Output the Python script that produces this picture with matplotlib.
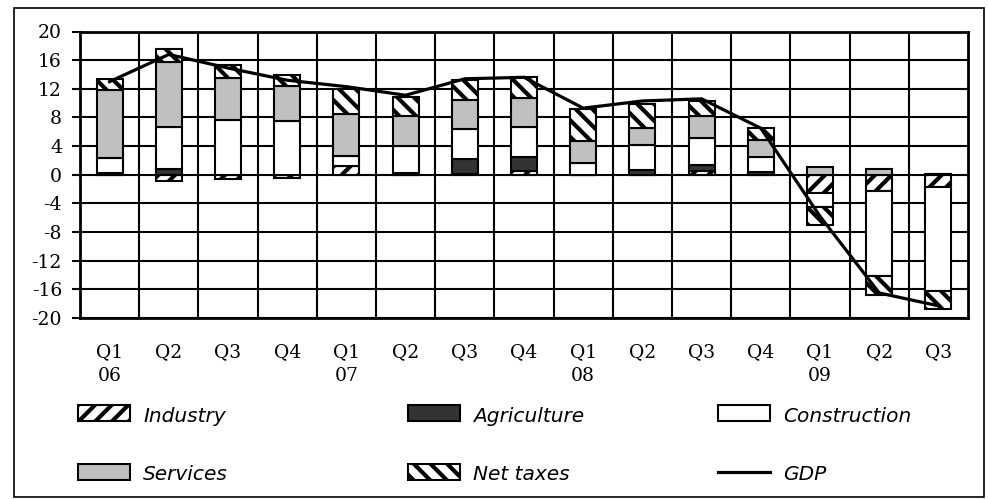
import matplotlib
matplotlib.use("Agg")
import matplotlib.pyplot as plt
from matplotlib.patches import Rectangle
from matplotlib.lines import Line2D
import numpy as np

# Contributions to GDP growth, percentage points
quarters = ["Q1\n06", "Q2", "Q3", "Q4", "Q1\n07", "Q2", "Q3", "Q4",
            "Q1\n08", "Q2", "Q3", "Q4", "Q1\n09", "Q2", "Q3"]
industry = [0.0, -0.9, -0.6, -0.5, 1.2, 0.0, 0.05, 0.5, 0.0, 0.0, 0.55, 0.0, -2.5, -2.2, -1.7]
agriculture = [0.3, 0.8, 0.0, 0.0, 0.0, 0.2, 2.15, 2.0, 0.0, 0.7, 0.85, 0.4, 0.0, 0.0, 0.15]
construction = [2.0, 5.8, 7.7, 7.5, 1.45, 3.85, 4.2, 4.1, 1.6, 3.4, 3.8, 2.05, -2.0, -11.9, -14.6]
services = [9.6, 9.2, 5.8, 4.9, 5.85, 4.2, 4.05, 4.1, 3.05, 2.45, 3.05, 2.35, 1.1, 0.8, 0.0]
net_taxes = [1.4, 1.7, 1.8, 1.5, 3.5, 2.65, 2.75, 2.9, 4.55, 3.35, 2.1, 1.75, -2.5, -2.7, -2.5]
gdp = [13.0, 16.8, 14.9, 13.2, 12.3, 11.1, 13.4, 13.6, 9.3, 10.3, 10.6, 6.5, -5.8, -16.5, -18.3]
y_ticks = [20, 16, 12, 8, 4, 0, -4, -8, -12, -16, -20]

plt.rcParams["hatch.linewidth"] = 3.0
tick_font = {"family": ["DejaVu Serif"], "size": 13.5}
legend_font = ["DejaVu Sans"]

series = [
    ("Industry", industry, dict(facecolor="white", hatch="//")),
    ("Agriculture", agriculture, dict(facecolor="#333333")),
    ("Construction", construction, dict(facecolor="white")),
    ("Services", services, dict(facecolor="#c0c0c0")),
    ("Net taxes", net_taxes, dict(facecolor="white", hatch="\\\\")),
]

fig = plt.figure(figsize=(9.88, 4.99), dpi=100)
W, H = 988, 499
ax = fig.add_axes([80 / W, 1 - 318 / H, (968 - 80) / W, (318 - 31.5) / H])

x = np.arange(len(quarters))
pos_base = np.zeros(len(x))
neg_base = np.zeros(len(x))
for name, vals, style in series:
    v = np.array(vals, dtype=float)
    bottoms = np.where(v >= 0, pos_base, neg_base)
    ax.bar(x, v, width=0.44, bottom=bottoms, edgecolor="black",
           linewidth=1.5, zorder=3, **style)
    pos_base += np.where(v >= 0, v, 0)
    neg_base += np.where(v < 0, v, 0)

ax.plot(x, gdp, color="black", linewidth=2.3, zorder=5, solid_joinstyle="miter")

ax.set_xlim(-0.5, len(x) - 0.5)
ax.set_ylim(-20, 20)
ax.set_yticks(y_ticks)
ax.set_yticklabels([str(t) for t in y_ticks], fontdict=tick_font)
ax.set_xticks(x)
ax.set_xticklabels(quarters, fontdict=tick_font, linespacing=1.4, va="top")
ax.tick_params(axis="y", direction="out", length=6, width=1.5, pad=7, color="black")
ax.tick_params(axis="x", length=0, pad=18)

for t in y_ticks:
    ax.axhline(t, color="black", linewidth=1.5, zorder=1)
for b in np.arange(0.5, len(x) - 0.5, 1.0):
    ax.axvline(b, color="black", linewidth=1.5, zorder=1)
for s in ax.spines.values():
    s.set_linewidth(2)
    s.set_color("black")
    s.set_zorder(6)

# legend block drawn in figure pixels
def fx(px):
    return px / W

def fy(py):
    return 1 - py / H

legend_items = [
    ("Industry", dict(facecolor="white", hatch="//"), 78, 413),
    ("Agriculture", dict(facecolor="#333333"), 408, 413),
    ("Construction", dict(facecolor="white"), 718, 413),
    ("Services", dict(facecolor="#c0c0c0"), 78, 472),
    ("Net taxes", dict(facecolor="white", hatch="\\\\"), 408, 472),
]
for label, style, px, py in legend_items:
    fig.add_artist(Rectangle((fx(px), fy(py + 8)), 52 / W, 16 / H,
                             transform=fig.transFigure, edgecolor="black",
                             linewidth=1.5, **style))
    fig.text(fx(px + 65), fy(py + 3), label, family=legend_font, style="italic",
             size=14.5, va="center", ha="left")

fig.add_artist(Line2D([fx(718), fx(770)], [fy(472), fy(472)],
                      transform=fig.transFigure, color="black", linewidth=2.3))
fig.text(fx(783), fy(475), "GDP", family=legend_font, style="italic",
         size=14.5, va="center", ha="left")

# outer frame
fig.add_artist(Rectangle((fx(14), fy(497)), (984 - 14) / W, (497 - 8) / H,
                         transform=fig.transFigure, fill=False,
                         edgecolor="black", linewidth=1.2))

fig.savefig("out.png", dpi=100)
